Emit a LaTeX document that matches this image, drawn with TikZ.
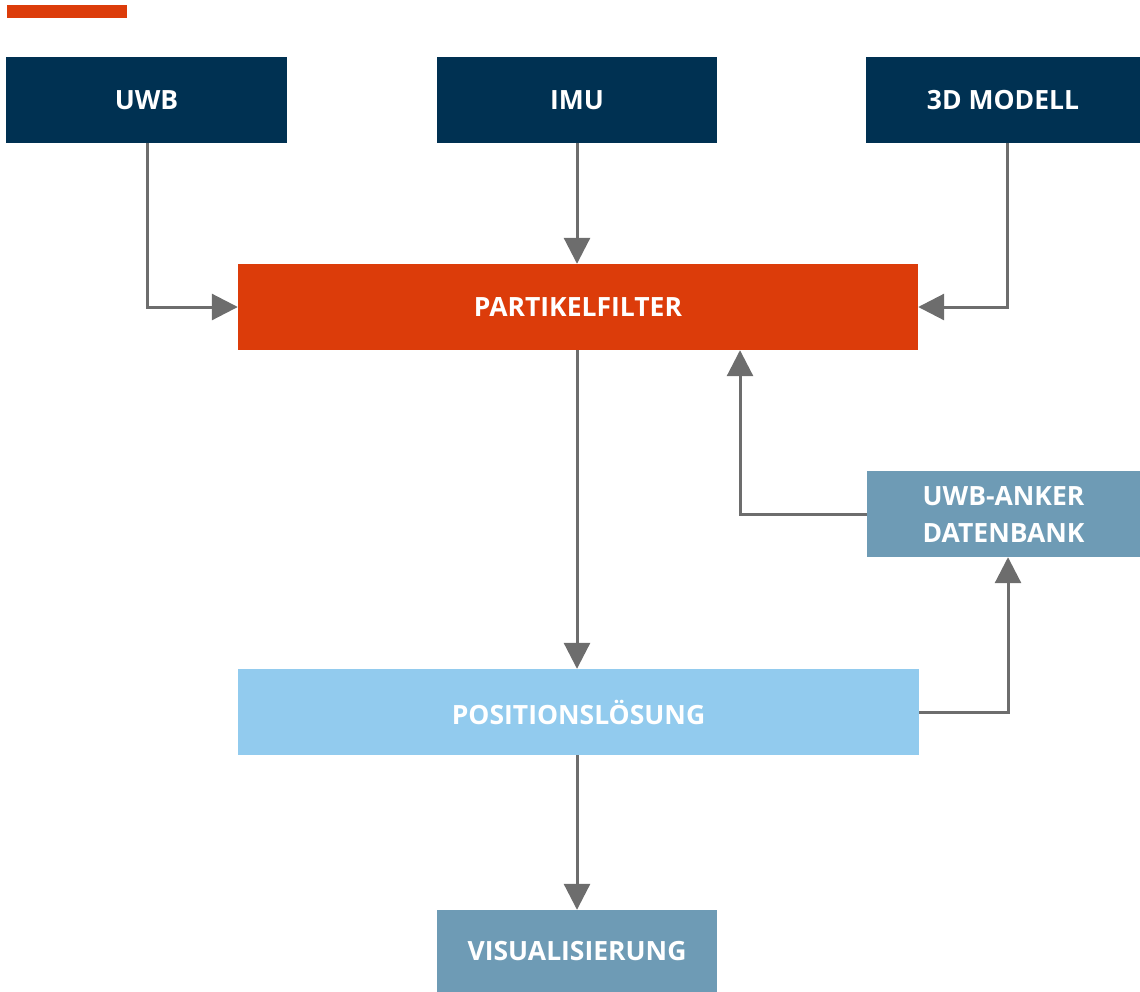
\documentclass[tikz,border=0pt]{standalone}
\usepackage{fontspec}
\setmainfont{Open Sans}
\usetikzlibrary{arrows.meta}
\definecolor{navy}{HTML}{003152}
\definecolor{orng}{HTML}{DC3C0A}
\definecolor{lblue}{HTML}{92CBEE}
\definecolor{sblue}{HTML}{6E9BB5}
\definecolor{conn}{HTML}{6D6D6D}
\tikzset{
  box/.style={rectangle, inner sep=0pt, text=white, font=\bfseries\fontsize{26.5}{37}\selectfont, align=center},
  link/.style={draw=conn, line width=3pt, -{Triangle[length=26pt,width=26pt]}}
}
\begin{document}
\begin{tikzpicture}[x=1pt,y=-1pt]
\useasboundingbox (0,0) rectangle (1140,991);
\fill[orng] (7,5) rectangle (127,18);
\node[box, fill=navy, minimum width=281pt, minimum height=86pt] (uwb) at (146.5,100) {UWB};
\node[box, fill=navy, minimum width=280pt, minimum height=86pt] (imu) at (577,100) {IMU};
\node[box, fill=navy, minimum width=274pt, minimum height=86pt] (mod) at (1003,100) {3D MODELL};
\node[box, fill=orng, minimum width=680pt, minimum height=86pt] (pf) at (578,307) {PARTIKELFILTER};
\node[box, fill=sblue, minimum width=273pt, minimum height=86pt] (db) at (1003.5,514) {UWB-ANKER\\DATENBANK};
\node[box, fill=lblue, minimum width=681pt, minimum height=86pt] (pos) at (578.5,712) {POSITIONSLÖSUNG};
\node[box, fill=sblue, minimum width=280pt, minimum height=82pt] (vis) at (577,951) {VISUALISIERUNG};
\draw[link] (uwb.south -| 147,0) |- (pf.west);
\draw[link] (imu.south) -- (imu.south |- pf.north);
\draw[link] (mod.south -| 1007,0) |- (pf.east);
\draw[link] (pf.south -| 577,0) -- (pos.north -| 577,0);
\draw[link] (db.west) -| (pf.south -| 740,0);
\draw[link] (pos.east) -| (db.south -| 1008,0);
\draw[link] (pos.south -| 577,0) -- (vis.north);
\end{tikzpicture}
\end{document}
